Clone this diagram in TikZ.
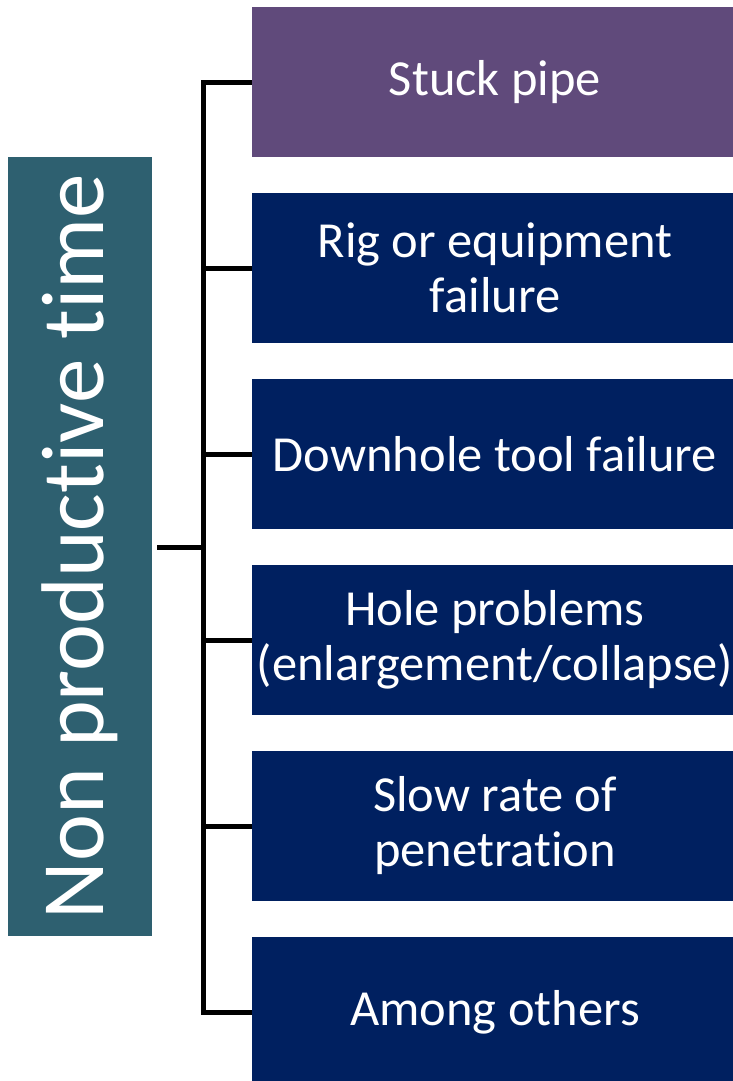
\documentclass[tikz,border=0pt]{standalone}
\usepackage{fontspec}
\setmainfont{Carlito}[RawFeature={-liga;-clig;-calt;-dlig}]
\definecolor{tealbox}{HTML}{2E6070}
\definecolor{purplebox}{HTML}{604A7B}
\definecolor{navybox}{HTML}{002060}
\begin{document}
\begin{tikzpicture}[x=1pt,y=-1pt,
  item/.style={fill=navybox, text=white, minimum width=481pt, minimum height=150pt, inner sep=0pt, align=center, font=\fontsize{50.5}{55}\selectfont},
  conn/.style={line width=5pt, line join=miter, line cap=butt}]
\useasboundingbox (0,0) rectangle (733,1081);
\node[fill=tealbox, minimum width=144pt, minimum height=779pt, inner sep=0pt] (ntp) at (80,546.5) {};
\node[text=white, rotate=90, font=\fontsize{89}{95}\selectfont] (ntpt) at (ntp.center) {Non productive time};
\node[item, fill=purplebox] (b1) at (492.5,82) {\hspace*{5pt}Stuck pipe};
\node[item] (b2) at (492.5,268) {\hspace*{5pt}Rig or equipment\\\hspace*{5pt}failure};
\node[item] (b3) at (492.5,454) {\hspace*{5pt}Downhole tool failure};
\node[item] (b4) at (492.5,640) {\hspace*{5pt}Hole problems\\\hspace*{5pt}(enlargement/collapse)};
\node[item] (b5) at (492.5,826) {\hspace*{5pt}Slow rate of\\\hspace*{5pt}penetration};
\node[item] (b6) at (492.5,1012) {\hspace*{5pt}Among others};
\coordinate (s1) at (203,82);
\coordinate (s6) at (203,1012);
\coordinate (hub) at (203,547);
\coordinate (stub) at (157,547);
\draw[conn] (b1.west) -- (s1) -- (s6) -- (b6.west);
\foreach \b in {b2,b3,b4,b5}{
  \draw[conn] (\b.west) -- (\b.west -| hub);
}
\draw[conn] (stub) -- (hub);
\end{tikzpicture}
\end{document}
